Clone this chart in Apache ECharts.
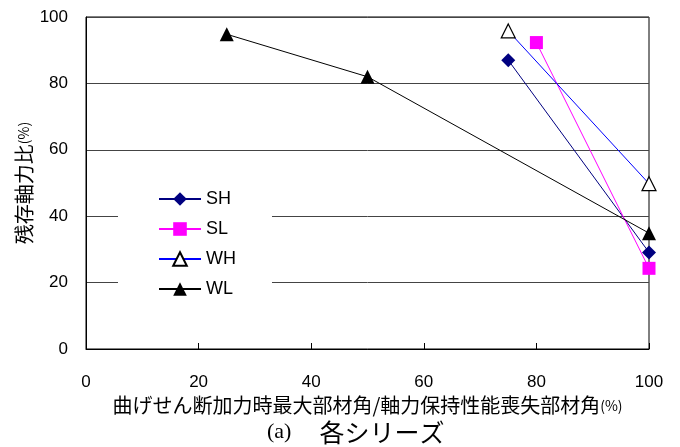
<!DOCTYPE html>
<html>
<head>
<meta charset="utf-8">
<script src="https://cdn.jsdelivr.net/npm/echarts@6/dist/echarts.min.js"></script>
<style>html,body{margin:0;padding:0;background:#fff;}#c{width:680px;height:447px;}</style>
</head>
<body>
<div id="c"></div>
<script>
const seriesNames = ['SH', 'SL', 'WH', 'WL'];
const shData = [[75, 87], [100, 29.1]];
const slData = [[80, 92.3], [100, 24.3]];
const whData = [[75, 95.8], [100, 49.8]];
const wlData = [[25, 94.8], [50, 82], [100, 34.9]];
const xTicks = [0, 20, 40, 60, 80, 100];
const yTicks = [0, 20, 40, 60, 80, 100];
const xName = '曲げせん断加力時最大部材角/軸力保持性能喪失部材角';
const yName = '残存軸力比';
const captionLabel = '(a)';
const captionText = '各シリーズ';

const sans = 'Liberation Sans, Arial, sans-serif';
const jp = 'Noto Sans CJK JP, sans-serif';

const chart = echarts.init(document.getElementById('c'));
chart.setOption({
  animation: false,
  backgroundColor: '#fff',
  title: {
    text: '{a|' + captionLabel + '}{s| }{b|' + captionText + '}',
    left: 262, top: 415,
    textStyle: {
      fontWeight: 'normal',
      rich: {
        a: { fontFamily: 'Liberation Serif, Times New Roman, serif', fontSize: 22, color: '#000', fontWeight: 'normal' },
        s: { width: 28, fontSize: 20 },
        b: { fontFamily: jp, fontSize: 25, color: '#000', fontWeight: 'normal' }
      }
    }
  },
  grid: { left: 86, right: 31, top: 17, bottom: 98, show: true, borderColor: '#000', borderWidth: 1, backgroundColor: 'transparent' },
  legend: {
    orient: 'vertical',
    left: 118, top: 180,
    padding: [10, 36, 10, 40],
    itemWidth: 42, itemHeight: 17, itemGap: 12,
    backgroundColor: '#fff',
    data: seriesNames,
    textStyle: { fontFamily: sans, fontSize: 18, color: '#000' }
  },
  xAxis: {
    type: 'value', min: xTicks[0], max: xTicks[xTicks.length - 1], interval: 20,
    name: '{t|' + xName + '}{p|(%)}', nameLocation: 'middle', nameGap: 41,
    nameTextStyle: { rich: { t: { fontFamily: jp, fontSize: 20, color: '#000' }, p: { fontFamily: jp, fontSize: 14, color: '#000' } } },
    axisLine: { show: true, lineStyle: { color: '#000', width: 1 } },
    axisTick: { show: true, inside: true, length: 6, lineStyle: { color: '#000' } },
    axisLabel: { margin: 25, fontFamily: sans, fontSize: 17, color: '#000' },
    splitLine: { show: false }
  },
  yAxis: {
    type: 'value', min: yTicks[0], max: yTicks[yTicks.length - 1], interval: 20,
    name: '{t|' + yName + '}{p|(%)}', nameLocation: 'middle', nameGap: 52, nameRotate: 90,
    nameMoveOverlap: false,
    nameTextStyle: { rich: { t: { fontFamily: jp, fontSize: 20, color: '#000' }, p: { fontFamily: jp, fontSize: 14, color: '#000' } } },
    axisLine: { show: true, lineStyle: { color: '#000', width: 1 } },
    axisTick: { show: false },
    axisLabel: { margin: 18, fontFamily: sans, fontSize: 17, color: '#000' },
    splitLine: { show: true, lineStyle: { color: '#444', width: 1 } }
  },
  series: [
    { name: 'SH', type: 'line', data: shData, symbol: 'diamond', symbolSize: 14,
      lineStyle: { color: '#000080', width: 1 }, itemStyle: { color: '#000080' } },
    { name: 'SL', type: 'line', data: slData, symbol: 'rect', symbolSize: 13,
      lineStyle: { color: '#FF00FF', width: 1 }, itemStyle: { color: '#FF00FF' } },
    { name: 'WH', type: 'line', data: whData, symbol: 'triangle', symbolSize: 14,
      lineStyle: { color: '#0000FF', width: 1 }, itemStyle: { color: '#fff', borderColor: '#000', borderWidth: 1.2 } },
    { name: 'WL', type: 'line', data: wlData, symbol: 'triangle', symbolSize: 14,
      lineStyle: { color: '#000', width: 1 }, itemStyle: { color: '#000' } }
  ]
});
</script>
</body>
</html>
